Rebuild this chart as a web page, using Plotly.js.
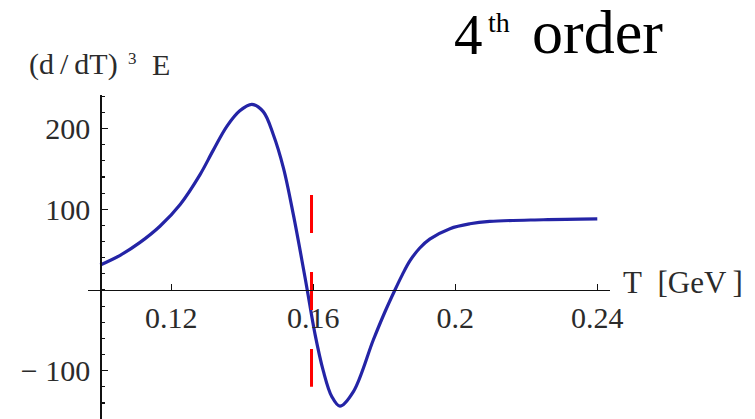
<!DOCTYPE html>
<html>
<head>
<meta charset="utf-8">
<script src="https://cdn.plot.ly/plotly-3.0.1.min.js"></script>
<style>html,body{margin:0;padding:0;background:#fff;}#chart{width:755px;height:419px;}</style>
</head>
<body>
<div id="chart"></div>
<script>
// Temperature T [GeV]
const T = [0.1000, 0.1056, 0.1112, 0.1168, 0.1225, 0.1281, 0.1318, 0.1357, 0.1393, 0.1427, 0.1459, 0.1487, 0.1516, 0.1544, 0.1572, 0.1583, 0.1605, 0.1628, 0.1652, 0.1675, 0.1713, 0.1769, 0.1802, 0.1830, 0.1851, 0.1872, 0.1900, 0.1928, 0.1985, 0.2041, 0.2097, 0.2248, 0.2400];
// (d/dT)^3 E
const E = [31, 43, 59, 79, 106, 143, 173, 203, 222, 230, 221, 193, 151, 93, 27, 0, -55, -100, -132, -144, -126, -62, -27, 0, 19, 36, 52, 63, 76, 82, 85, 87, 88];
// red marker line
const markX = [0.1595, 0.1595];
const markY = [117.7, -119.8];
// ticks
const xTickVals = [0.12, 0.16, 0.2, 0.24];
const xTickText = ["0.12", "0.16", "0.2", "0.24"];
const yTickVals = [-100, 100, 200];
const yTickText = ["\u2212 100", "100", "200"];

const xRange = [0.09654, 0.24358];
const yRange = [-159.9, 241.6];
const yAxisPos = (0.1 - xRange[0]) / (xRange[1] - xRange[0]);
const xAxisPos = (0 - yRange[0]) / (yRange[1] - yRange[0]);

const serif = "Liberation Serif, Times New Roman, serif";
const tickFont = {family: serif, size: 30, color: "#2b2b2b"};
const px = v => (v - 88) / 522;   // paper x from pixel column

const traces = [
  {x: T, y: E, type: "scatter", mode: "lines", line: {color: "#2424a6", width: 3.2, shape: "spline", smoothing: 1}, hoverinfo: "skip"},
  {x: markX, y: markY, type: "scatter", mode: "lines", line: {color: "#ff0000", width: 3, dash: "38px,39px"}, hoverinfo: "skip"}
];

const layout = {
  width: 755, height: 419,
  margin: {l: 88, r: 145, t: 95, b: 0},
  paper_bgcolor: "#ffffff", plot_bgcolor: "#ffffff",
  showlegend: false,
  xaxis: {
    range: xRange, domain: [0, 1], anchor: "free", position: xAxisPos,
    showgrid: false, zeroline: false, showline: true, linecolor: "#111", linewidth: 1.5,
    ticks: "inside", ticklen: 6, tickwidth: 1.5, tickcolor: "#111",
    tickvals: xTickVals, ticktext: xTickText, tickfont: tickFont, ticklabelstandoff: 1
  },
  yaxis: {
    range: yRange, domain: [0, 1], anchor: "free", position: yAxisPos,
    showgrid: false, zeroline: false, showline: true, linecolor: "#111", linewidth: 1.5,
    ticks: "inside", ticklen: 6, tickwidth: 1.5, tickcolor: "#111",
    tickvals: yTickVals, ticktext: yTickText, tickfont: tickFont, ticklabelstandoff: 4,
    minor: {dtick: 20, tick0: 0, ticks: "inside", ticklen: 3, tickwidth: 1.2, tickcolor: "#111"}
  },
  annotations: [
    {xref: "paper", yref: "paper", x: px(27), y: 1.0, xanchor: "left", yanchor: "bottom", yshift: 12,
     text: "(d\u2009/\u2009dT)", showarrow: false, font: {family: serif, size: 30, color: "#2b2b2b"}},
    {xref: "paper", yref: "paper", x: px(126), y: 1.0, xanchor: "left", yanchor: "bottom", yshift: 25,
     text: "3", showarrow: false, font: {family: serif, size: 17, color: "#2b2b2b"}},
    {xref: "paper", yref: "paper", x: px(150), y: 1.0, xanchor: "left", yanchor: "bottom", yshift: 12,
     text: "E", showarrow: false, font: {family: serif, size: 30, color: "#2b2b2b"}},
    {xref: "paper", yref: "paper", x: px(621), y: xAxisPos, xanchor: "left", yanchor: "middle", yshift: 7,
     text: "T\u2002[GeV\u2009]", showarrow: false, font: {family: serif, size: 31, color: "#2b2b2b"}},
    {xref: "paper", yref: "paper", x: px(452), y: 1.0, xanchor: "left", yanchor: "bottom", yshift: 27,
     text: "4", showarrow: false, font: {family: serif, size: 57, color: "#000"}},
    {xref: "paper", yref: "paper", x: px(486), y: 1.0, xanchor: "left", yanchor: "bottom", yshift: 55,
     text: "th", showarrow: false, font: {family: serif, size: 28, color: "#000"}},
    {xref: "paper", yref: "paper", x: px(530), y: 1.0, xanchor: "left", yanchor: "bottom", yshift: 27,
     text: "order", showarrow: false, font: {family: serif, size: 62, color: "#000"}}
  ]
};

Plotly.newPlot("chart", traces, layout, {staticPlot: true, displayModeBar: false});
</script>
</body>
</html>
